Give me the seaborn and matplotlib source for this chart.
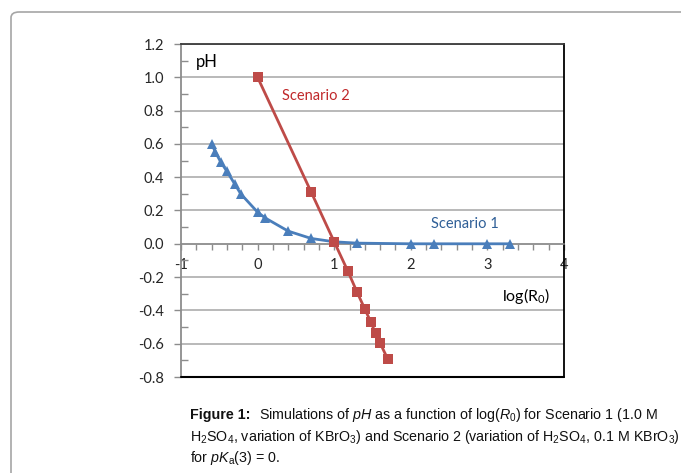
import numpy as np
import pandas as pd
import seaborn as sns
import matplotlib
matplotlib.use("Agg")
import matplotlib.pyplot as plt
from matplotlib.patches import FancyBboxPatch
from matplotlib.ticker import MultipleLocator, FixedLocator
from matplotlib import font_manager as fm

# ---- data ----
s1_x = [-0.60, -0.55, -0.48, -0.40, -0.30, -0.22, 0.00, 0.10, 0.40, 0.70, 1.00, 1.30, 2.00, 2.30, 3.00, 3.30]
s1_y = [0.60, 0.55, 0.49, 0.435, 0.36, 0.30, 0.19, 0.155, 0.076, 0.032, 0.012, 0.004, 0.0, 0.0, 0.0, 0.0]
s2_x = [0.00, 0.70, 1.00, 1.18, 1.30, 1.40, 1.48, 1.54, 1.60, 1.70]
s2_y = [1.00, 0.31, 0.012, -0.166, -0.292, -0.392, -0.472, -0.538, -0.597, -0.693]
x_ticks = [-1, 0, 1, 2, 3, 4]
y_ticks = [-0.8, -0.6, -0.4, -0.2, 0.0, 0.2, 0.4, 0.6, 0.8, 1.0, 1.2]

df = pd.concat([
    pd.DataFrame({"x": s1_x, "y": s1_y, "s": "Scenario 1"}),
    pd.DataFrame({"x": s2_x, "y": s2_y, "s": "Scenario 2"}),
])

sns.set_style("white")
plt.rcParams["font.family"] = ["Lato", "DejaVu Sans"]

cap_family = "Liberation Sans"
cap_size = 10.3
plt.rcParams["mathtext.fontset"] = "custom"
plt.rcParams["mathtext.rm"] = cap_family
plt.rcParams["mathtext.it"] = cap_family + ":italic"
plt.rcParams["mathtext.bf"] = cap_family + ":bold"

W, H = 681, 473
fig = plt.figure(figsize=(W / 100, H / 100), dpi=100)
fig.patch.set_facecolor("white")

# rounded frame
frame = FancyBboxPatch((11 / W, -0.1), 1.0, 1 - 12 / H + 0.1,
                       boxstyle="round,pad=0,rounding_size=0.012",
                       transform=fig.transFigure, facecolor="none",
                       edgecolor="#a6a6a6", lw=1.2)
fig.patches.append(frame)

ax = fig.add_axes([181 / W, 1 - 377 / H, (564 - 181) / W, (377 - 44) / H])

blue = "#4a7ebb"
red = "#be4b48"
sns.lineplot(data=df, x="x", y="y", hue="s", style="s",
             palette={"Scenario 1": blue, "Scenario 2": red},
             markers={"Scenario 1": "^", "Scenario 2": "s"},
             dashes=False, sort=False, legend=False, ax=ax, lw=2,
             markersize=7, markeredgewidth=0, zorder=3)

ax.set_xlim(-1, 4)
ax.set_ylim(-0.8, 1.2)
ax.set_xlabel("")
ax.set_ylabel("")

ax.yaxis.set_major_locator(FixedLocator(y_ticks))
ax.yaxis.set_minor_locator(MultipleLocator(0.1))
ax.xaxis.set_major_locator(FixedLocator(x_ticks))
ax.xaxis.set_minor_locator(MultipleLocator(0.2))
for v in y_ticks:
    ax.axhline(v, color="#a6a6a6", lw=1.1, zorder=1)

ax.set_yticklabels([f"{v:.1f}" for v in y_ticks])
ax.set_xticklabels([str(v) for v in x_ticks])

ax.spines["bottom"].set_position(("data", 0))
ax.spines["bottom"].set_color("#8c8c8c")
ax.spines["bottom"].set_linewidth(1.1)
ax.spines["left"].set_color("#8c8c8c")
ax.spines["left"].set_linewidth(1.3)
ax.spines["top"].set_color("#3a3a3a")
ax.spines["top"].set_linewidth(1.3)
ax.spines["right"].set_color("black")
ax.spines["right"].set_linewidth(1.3)
ax.axhline(-0.8, color="black", lw=1.5, zorder=4, clip_on=False)

ax.tick_params(axis="y", which="major", direction="out", length=5, width=1,
               color="#8c8c8c", pad=7, labelsize=10.5, left=True)
ax.tick_params(axis="y", which="minor", direction="in", length=5, width=1,
               color="#8c8c8c", left=True)
ax.tick_params(axis="x", which="both", direction="out", length=4, width=1,
               color="#8c8c8c", pad=6, labelsize=10.5, bottom=True)

# annotations
ax.text(-0.80, 1.09, "pH", fontsize=12, color="black", va="center", ha="left")
ax.text(0.315, 0.889, "Scenario 2", fontsize=10.5, color="#c0282a", va="center", ha="left")
ax.text(2.27, 0.118, "Scenario 1", fontsize=10.5, color="#2f5f97", va="center", ha="left")
ax.text(3.19, -0.312, r"log(R$_\mathregular{0}$)", fontsize=11.5, color="black", va="center", ha="left")

# caption
cap_kw = dict(fontsize=cap_size, family=[cap_family], ha="left", va="baseline", color="#111111")
x0 = 190 / W
b1 = 1 - 419 / H
bold = fig.text(x0, b1, "Figure 1:", fontweight="bold", **cap_kw)
fig.canvas.draw()
bb = bold.get_window_extent(renderer=fig.canvas.get_renderer())
x1 = (bb.x1 + 9) / W
fig.text(x1, b1,
         r"Simulations of $pH$ as a function of log($R_0$) for Scenario 1 (1.0 M", **cap_kw)
fig.text(x0, 1 - 441 / H,
         r"H$_2$SO$_4$, variation of KBrO$_3$) and Scenario 2 (variation of H$_2$SO$_4$, 0.1 M KBrO$_3$)", **cap_kw)
fig.text(x0, 1 - 462 / H,
         r"for $pK_\mathrm{a}$(3) = 0.", **cap_kw)

fig.savefig("out.png", dpi=100)
